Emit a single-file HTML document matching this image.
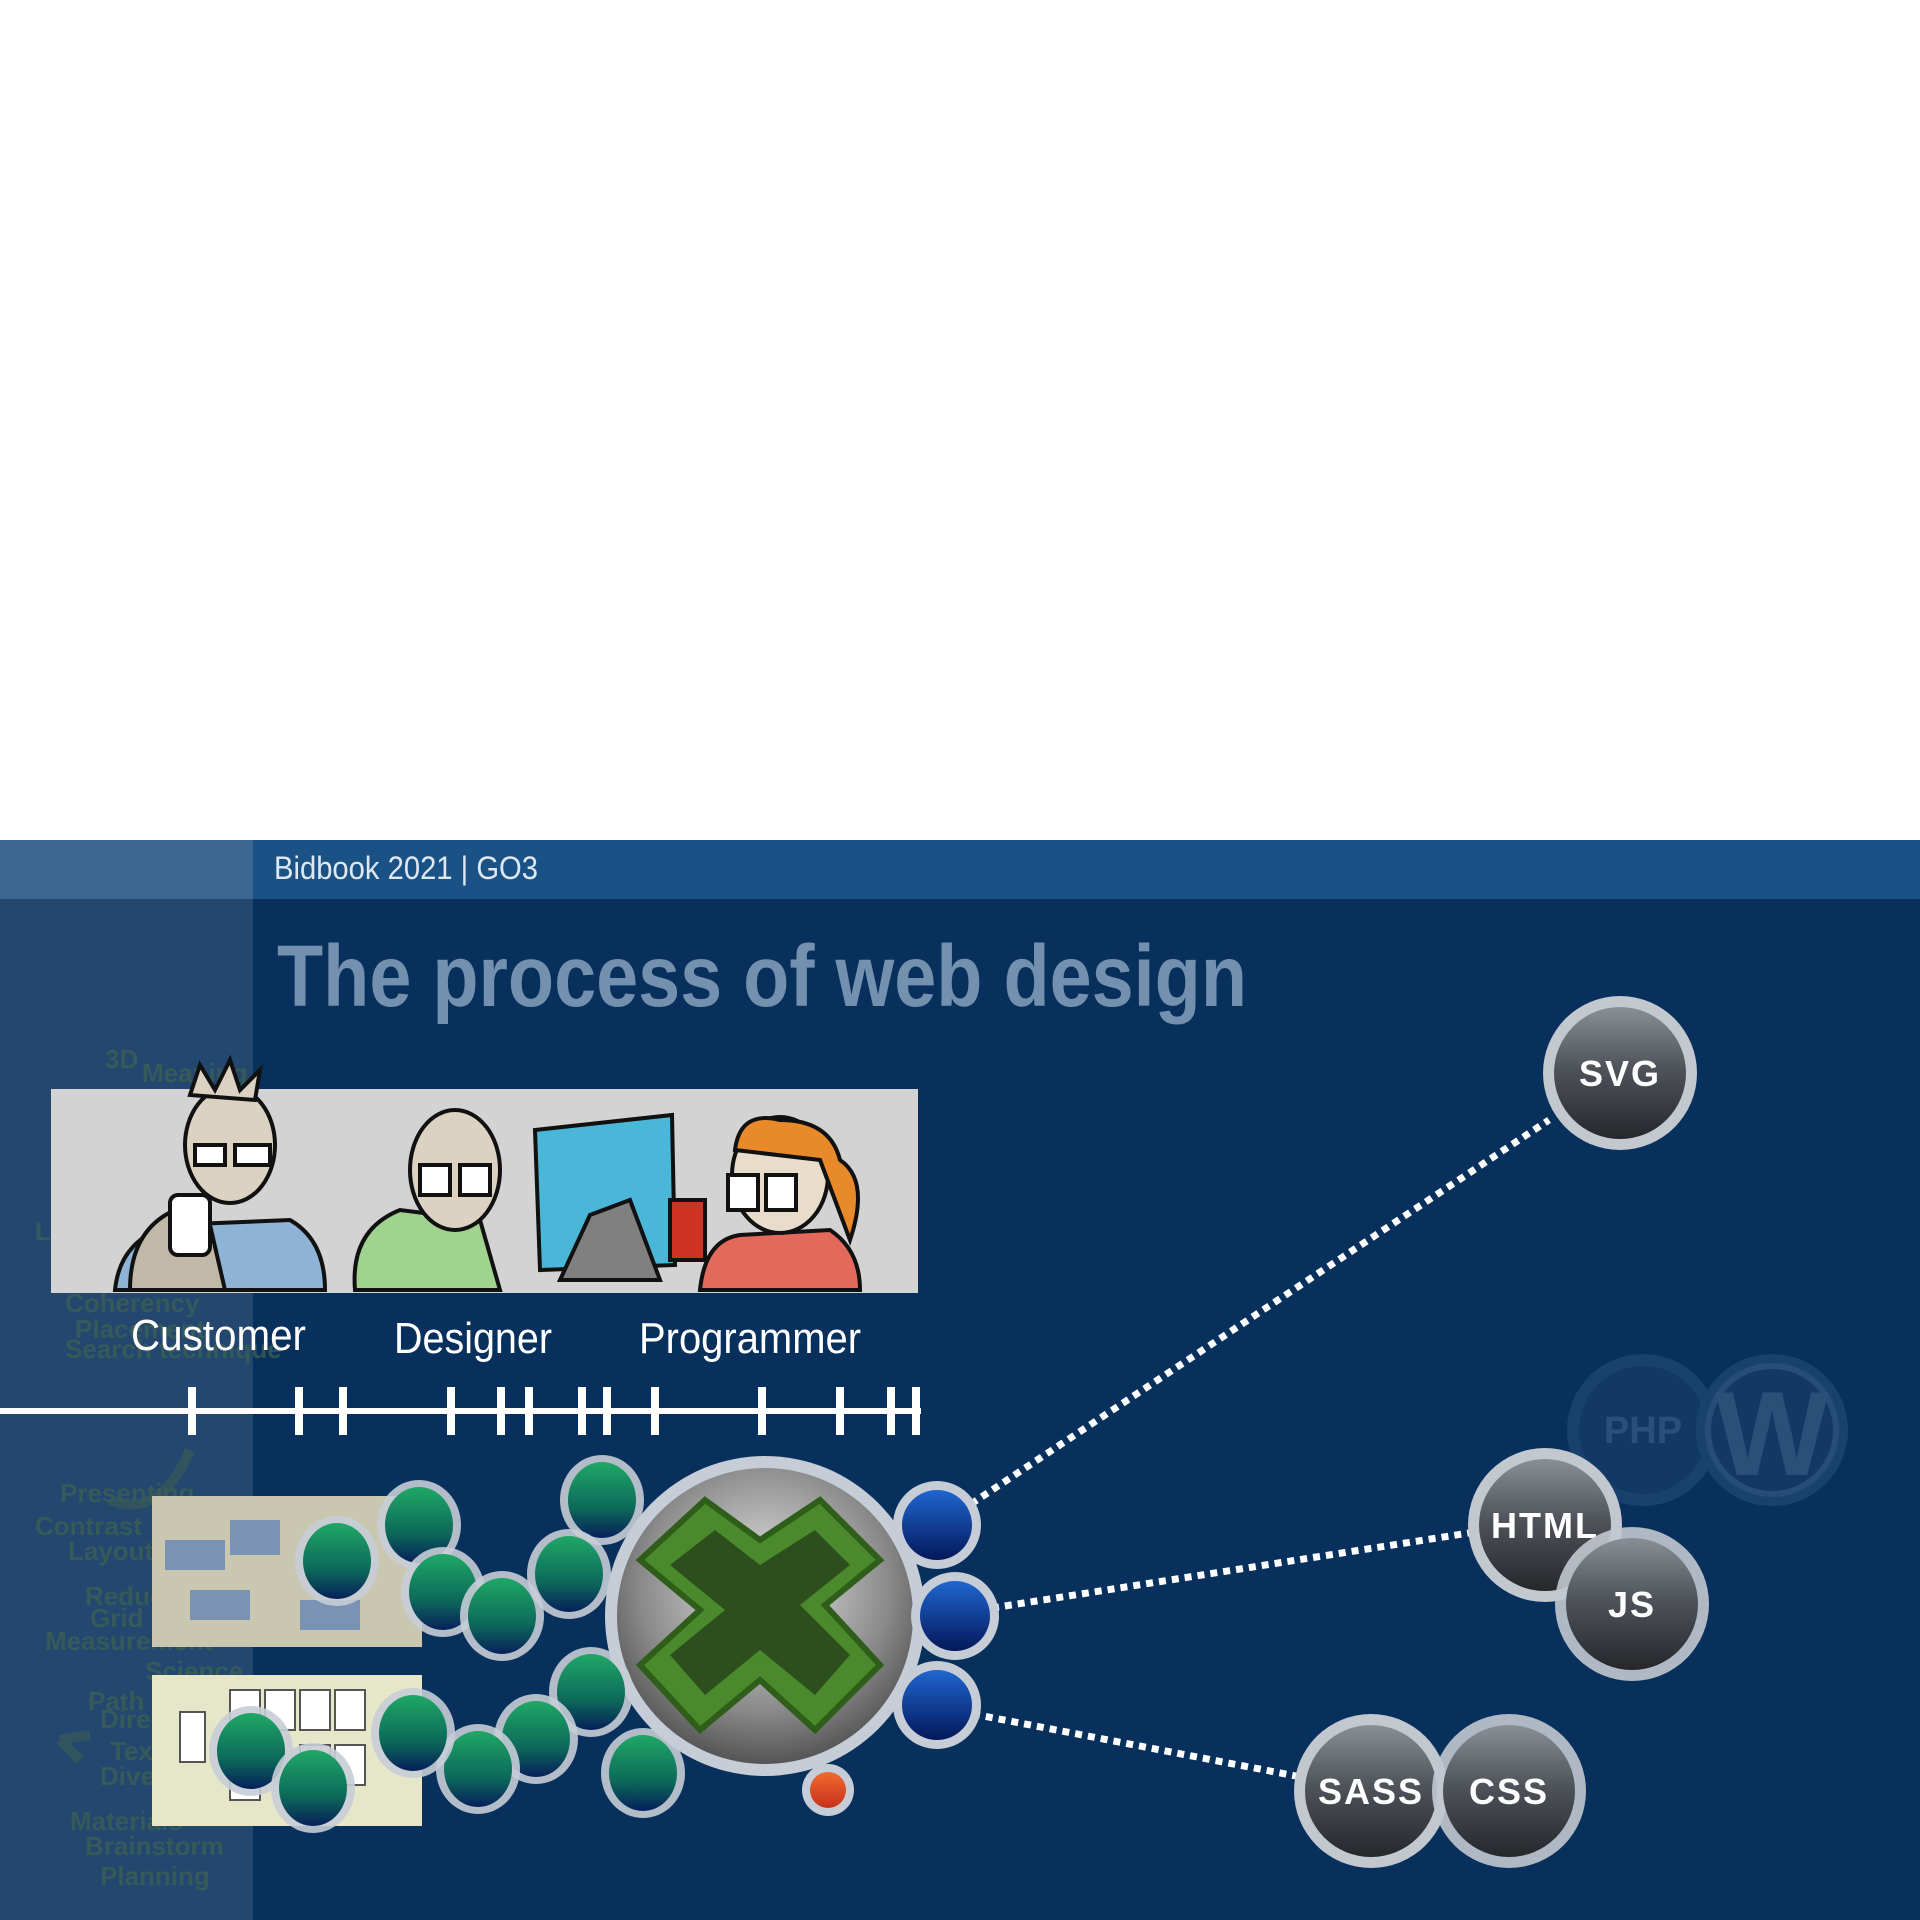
<!DOCTYPE html>
<html><head><meta charset="utf-8"><style>
html,body{margin:0;padding:0;background:#fff;}
svg{display:block}
text{font-family:"Liberation Sans",sans-serif}
</style></head><body>
<svg width="1920" height="1920" viewBox="0 0 1920 1920" xmlns="http://www.w3.org/2000/svg">
<defs>
<linearGradient id="dk" x1="0" y1="0" x2="0" y2="1"><stop offset="0" stop-color="#8a8f96"/><stop offset="0.45" stop-color="#50545b"/><stop offset="1" stop-color="#25272b"/></linearGradient>
<linearGradient id="gr" x1="0" y1="0" x2="0" y2="1"><stop offset="0" stop-color="#1fa866"/><stop offset="0.6" stop-color="#0d6a5a"/><stop offset="1" stop-color="#06205a"/></linearGradient>
<linearGradient id="bl" x1="0" y1="0" x2="0" y2="1"><stop offset="0" stop-color="#1f66d0"/><stop offset="1" stop-color="#04185a"/></linearGradient>
<linearGradient id="or" x1="0" y1="0" x2="0" y2="1"><stop offset="0" stop-color="#f06a30"/><stop offset="1" stop-color="#c8301a"/></linearGradient>
<radialGradient id="big" cx="0.5" cy="0.4" r="0.6"><stop offset="0" stop-color="#e8e8e8"/><stop offset="0.7" stop-color="#8a8a8a"/><stop offset="1" stop-color="#555"/></radialGradient>
<g id="gc"><ellipse rx="42" ry="45" fill="#c6cdd6" opacity="0.9"/><ellipse rx="34" ry="38" fill="url(#gr)"/></g>
<g id="bc"><circle r="44" fill="#c6cdd6"/><circle r="35" fill="url(#bl)"/></g>
</defs>
<rect width="1920" height="840" fill="#fff"/>
<rect y="840" width="1920" height="1080" fill="#08305c"/>
<rect y="840" width="1920" height="59" fill="#1a5285"/>
<rect y="840" width="253" height="59" fill="#3a6691"/>
<rect y="899" width="253" height="1021" fill="#23476f"/>
<text x="274" y="879" font-size="32" fill="#dfe8f2" textLength="264" lengthAdjust="spacingAndGlyphs">Bidbook 2021 | GO3</text>
<text x="277" y="1006" font-size="87" font-weight="bold" fill="#7390ae" textLength="970" lengthAdjust="spacingAndGlyphs">The process of web design</text>
<g fill="#3b5e55" font-size="26" font-weight="bold" opacity="0.8">
<text x="105" y="1068">3D</text><text x="142" y="1082">Meaning</text>
<text x="35" y="1240">Lo</text><text x="65" y="1312">Coherency</text><text x="75" y="1338">Placement</text><text x="65" y="1358">Search technique</text>
<text x="60" y="1502">Presenting</text><text x="35" y="1535">Contrast</text><text x="68" y="1560">Layout</text><text x="85" y="1605">Reduce</text><text x="90" y="1627">Grid</text><text x="45" y="1650">Measurement</text><text x="145" y="1680">Science</text><text x="88" y="1710">Path</text><text x="100" y="1728">Direction</text><text x="110" y="1760">Text</text><text x="100" y="1785">Diversity</text><text x="70" y="1830">Materials</text>
<text x="85" y="1855">Brainstorm</text><text x="100" y="1885">Planning</text>
</g>
<path d="M90 1110 Q40 1150 80 1230" stroke="#3b5e55" stroke-width="10" fill="none" opacity="0.6"/>
<path d="M190 1450 Q160 1520 110 1500" stroke="#3b5e55" stroke-width="10" fill="none" opacity="0.6"/>
<path d="M80 1760 l-20 -20 M60 1740 l30 -5" stroke="#3b5e55" stroke-width="10" fill="none" opacity="0.6"/>
<rect x="51" y="1089" width="867" height="204" fill="#d3d3d3"/>
<g stroke="#111" stroke-width="4">
<path d="M115 1290 Q120 1240 170 1225 L290 1220 Q325 1240 325 1290Z" fill="#8fb3d4"/>
<ellipse cx="230" cy="1145" rx="45" ry="58" fill="#dcd2c2"/>
<path d="M190 1095 l10 -30 l15 25 l15 -30 l10 30 l20 -20 l-5 30z" fill="#dcd2c2"/>
<rect x="195" y="1145" width="30" height="20" fill="#fff"/><rect x="235" y="1145" width="35" height="20" fill="#fff"/>
<path d="M130 1290 Q130 1230 175 1210 L210 1225 L225 1290Z" fill="#c2b8a8"/>
<rect x="170" y="1195" width="40" height="60" rx="8" fill="#fff"/>
<path d="M355 1290 Q350 1230 400 1210 L480 1220 L500 1290Z" fill="#9fd38e"/>
<ellipse cx="455" cy="1170" rx="45" ry="60" fill="#dcd2c2"/>
<rect x="420" y="1165" width="30" height="30" fill="#fff"/><rect x="460" y="1165" width="30" height="30" fill="#fff"/>
<path d="M535 1130 L672 1115 L675 1265 L540 1270Z" fill="#4bb7d8"/>
<path d="M590 1215 L630 1200 L660 1280 L560 1280Z" fill="#808080"/>
<rect x="670" y="1200" width="35" height="60" fill="#c32" />
<path d="M700 1290 Q705 1240 740 1235 L830 1230 Q860 1250 860 1290Z" fill="#e36a5a"/>
<ellipse cx="780" cy="1175" rx="48" ry="58" fill="#e8dccb"/>
<path d="M735 1150 Q740 1110 780 1120 Q830 1120 840 1160 Q870 1180 850 1240 L820 1160Z" fill="#e88a2a"/>
<rect x="728" y="1175" width="30" height="35" fill="#fff"/><rect x="766" y="1175" width="30" height="35" fill="#fff"/>
</g>
<g fill="#fff" font-size="44">
<text x="131" y="1350" textLength="175" lengthAdjust="spacingAndGlyphs">Customer</text>
<text x="394" y="1353" textLength="158" lengthAdjust="spacingAndGlyphs">Designer</text>
<text x="639" y="1353" textLength="222" lengthAdjust="spacingAndGlyphs">Programmer</text>
</g>
<rect x="0" y="1408" width="921" height="6" fill="#fff"/>
<g fill="#fff">
<rect x="188" y="1387" width="8" height="48"/><rect x="295" y="1387" width="8" height="48"/><rect x="339" y="1387" width="8" height="48"/><rect x="447" y="1387" width="8" height="48"/><rect x="497" y="1387" width="8" height="48"/><rect x="525" y="1387" width="8" height="48"/><rect x="578" y="1387" width="8" height="48"/><rect x="603" y="1387" width="8" height="48"/><rect x="651" y="1387" width="8" height="48"/><rect x="758" y="1387" width="8" height="48"/><rect x="836" y="1387" width="8" height="48"/><rect x="887" y="1387" width="8" height="48"/><rect x="912" y="1387" width="8" height="48"/>
</g>
<rect x="152" y="1496" width="270" height="151" fill="#c9c7b0"/>
<g fill="#5a7eb8" opacity="0.7"><rect x="165" y="1540" width="60" height="30"/><rect x="230" y="1520" width="50" height="35"/><rect x="190" y="1590" width="60" height="30"/><rect x="300" y="1600" width="60" height="30"/></g>
<rect x="152" y="1675" width="270" height="151" fill="#e6e6c8"/>
<g fill="#fff" stroke="#555" stroke-width="2"><rect x="230" y="1690" width="30" height="40"/><rect x="265" y="1690" width="30" height="40"/><rect x="300" y="1690" width="30" height="40"/><rect x="335" y="1690" width="30" height="40"/><rect x="180" y="1712" width="25" height="50"/><rect x="300" y="1745" width="30" height="40"/><rect x="335" y="1745" width="30" height="40"/><rect x="230" y="1760" width="30" height="40"/></g>
<g stroke="#fff" stroke-width="7" stroke-dasharray="7 6" fill="none">
<line x1="971" y1="1504" x2="1549" y2="1120"/>
<line x1="992" y1="1608" x2="1469" y2="1533"/>
<line x1="973" y1="1714" x2="1296" y2="1776"/>
</g>
<circle cx="765" cy="1616" r="160" fill="#c6cdd6"/>
<circle cx="765" cy="1616" r="148" fill="url(#big)"/>
<path d="M705 1500 L760 1540 L820 1500 L880 1560 L825 1605 L880 1665 L815 1730 L760 1680 L700 1730 L640 1665 L700 1610 L640 1560Z" fill="#4a8a2c" stroke="#2e5e1a" stroke-width="6"/>
<path d="M715 1530 L760 1565 L815 1530 L850 1565 L800 1605 L850 1655 L815 1695 L760 1650 L705 1695 L670 1655 L725 1610 L670 1565Z" fill="#2d4f1e"/>
<use href="#gc" x="337" y="1561"/><use href="#gc" x="419" y="1525"/><use href="#gc" x="443" y="1592"/><use href="#gc" x="502" y="1616"/><use href="#gc" x="602" y="1500"/><use href="#gc" x="569" y="1574"/><use href="#gc" x="591" y="1692"/><use href="#gc" x="536" y="1739"/><use href="#gc" x="478" y="1769"/><use href="#gc" x="413" y="1733"/><use href="#gc" x="251" y="1751"/><use href="#gc" x="313" y="1788"/><use href="#gc" x="643" y="1773"/>
<use href="#bc" x="937" y="1525"/><use href="#bc" x="955" y="1616"/><use href="#bc" x="937" y="1705"/>
<circle cx="828" cy="1790" r="26" fill="#c6cdd6"/><circle cx="828" cy="1790" r="18" fill="url(#or)"/>
<g opacity="0.3"><circle cx="1643" cy="1430" r="76" fill="#3f6a9a"/><circle cx="1643" cy="1430" r="64" fill="#2a4f7c"/>
<circle cx="1772" cy="1430" r="76" fill="#3f6a9a"/><circle cx="1772" cy="1430" r="64" fill="#2a4f7c" stroke="#6a90bb" stroke-width="6"/>
<text x="1643" y="1443" font-size="38" font-weight="bold" fill="#7a9cc0" text-anchor="middle">PHP</text>
<text x="1772" y="1475" font-size="120" font-weight="bold" fill="#7a9cc0" text-anchor="middle" font-family="Liberation Serif,serif">W</text></g>
<g font-size="36" font-weight="bold" fill="#fff" text-anchor="middle" letter-spacing="2">
<circle cx="1620" cy="1073" r="77" fill="#c3c8cf"/><circle cx="1620" cy="1073" r="66" fill="url(#dk)"/><text x="1620" y="1086">SVG</text>
<circle cx="1545" cy="1525" r="77" fill="#c3c8cf"/><circle cx="1545" cy="1525" r="66" fill="url(#dk)"/><text x="1545" y="1538">HTML</text>
<circle cx="1632" cy="1604" r="77" fill="#c3c8cf" opacity="0.9"/><circle cx="1632" cy="1604" r="66" fill="url(#dk)"/><text x="1632" y="1617">JS</text>
<circle cx="1371" cy="1791" r="77" fill="#c3c8cf"/><circle cx="1371" cy="1791" r="66" fill="url(#dk)"/>
<circle cx="1509" cy="1791" r="77" fill="#c3c8cf" opacity="0.9"/><circle cx="1509" cy="1791" r="66" fill="url(#dk)"/>
<text x="1371" y="1804">SASS</text><text x="1509" y="1804">CSS</text>
</g>
</svg>
</body></html>
